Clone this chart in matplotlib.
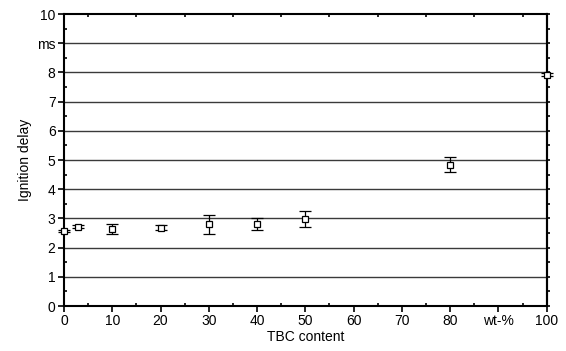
import numpy as np
import matplotlib.pyplot as plt
from matplotlib.ticker import MultipleLocator

plt.rcParams['font.family'] = ['Liberation Sans', 'DejaVu Sans']

# Daten
tbc = [0, 3, 10, 20, 30, 40, 50, 80, 100]
delay = [2.57, 2.71, 2.65, 2.69, 2.80, 2.82, 2.97, 4.84, 7.92]
err = [0.05, 0.05, 0.17, 0.08, 0.32, 0.20, 0.27, 0.25, 0.05]

xticks = [0, 10, 20, 30, 40, 50, 60, 70, 80, 90, 100]
xlabels = ['0', '10', '20', '30', '40', '50', '60', '70', '80', 'wt-%', '100']
yticks = list(range(11))
ylabels = ['0', '1', '2', '3', '4', '5', '6', '7', '8', 'ms', '10']

fig = plt.figure(figsize=(5.66, 3.51), dpi=100)
ax = fig.add_axes([0.113, 0.128, 0.853, 0.832])

for y in yticks[1:-1]:
    ax.axhline(y, color='#3a3a3a', lw=1.0, zorder=1)

ax.errorbar(tbc, delay, yerr=err, fmt='s', mfc='white', mec='black', ms=5,
            mew=0.9, ecolor='black', elinewidth=0.9, capsize=4, capthick=0.9,
            clip_on=False, zorder=3)

ax.set_xlim(0, 100)
ax.set_ylim(0, 10)
ax.set_xticks(xticks)
ax.set_xticklabels(xlabels)
ax.set_yticks(yticks)
ax.set_yticklabels(ylabels)
ax.xaxis.set_minor_locator(MultipleLocator(5))
ax.yaxis.set_minor_locator(MultipleLocator(0.5))

for s in ax.spines.values():
    s.set_linewidth(1.5)

ax.tick_params(which='major', direction='out', length=4, width=1.2, labelsize=10, pad=2)
ax.tick_params(which='minor', direction='in', length=2, width=1.2)
ax.tick_params(axis='y', which='both', right=True)
ax.tick_params(axis='x', which='minor', top=True)

# rechte Achse: Striche nach außen
right_ax = ax.secondary_yaxis('right')
right_ax.set_yticks(yticks)
right_ax.yaxis.set_minor_locator(MultipleLocator(0.5))
right_ax.tick_params(which='both', direction='out', length=2.5, width=1.2, labelright=False)
right_ax.spines['right'].set_linewidth(1.5)
ax.tick_params(axis='y', which='both', right=False)

ax.set_xlabel('TBC content', fontsize=10, labelpad=1)
ax.set_ylabel('Ignition delay', fontsize=10, labelpad=4)

fig.savefig('out.png', dpi=100)
